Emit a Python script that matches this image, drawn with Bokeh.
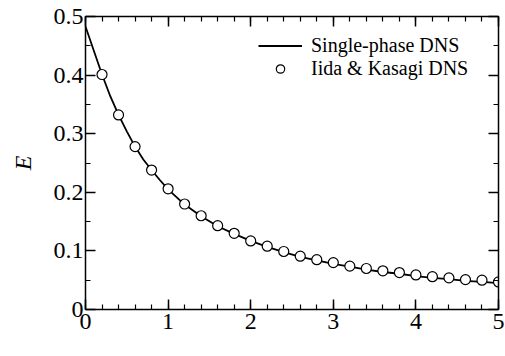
from bokeh.plotting import figure
from bokeh.models import LinearAxis, FixedTicker, Range1d, Legend, LegendItem, Label
from bokeh.embed import file_html
from bokeh.resources import INLINE

# Single-phase DNS (solid line)
t_line = [0.0, 0.1, 0.2, 0.3, 0.4, 0.5, 0.6, 0.7, 0.8, 0.9, 1.0, 1.2, 1.4, 1.6, 1.8,
          2.0, 2.2, 2.4, 2.6, 2.8, 3.0, 3.2, 3.4, 3.6, 3.8, 4.0, 4.2, 4.4, 4.6, 4.8, 5.0]
E_line = [0.483, 0.442, 0.401, 0.364, 0.332, 0.304, 0.278, 0.256, 0.238, 0.221, 0.205,
          0.179, 0.159, 0.142, 0.129, 0.117, 0.107, 0.098, 0.090, 0.084, 0.078, 0.073,
          0.068, 0.064, 0.061, 0.057, 0.054, 0.052, 0.049, 0.047, 0.045]

# Iida & Kasagi DNS (open circles)
t_dns = [0.2, 0.4, 0.6, 0.8, 1.0, 1.2, 1.4, 1.6, 1.8, 2.0, 2.2, 2.4, 2.6, 2.8, 3.0,
         3.2, 3.4, 3.6, 3.8, 4.0, 4.2, 4.4, 4.6, 4.8, 5.0]
E_dns = [0.401, 0.332, 0.278, 0.238, 0.206, 0.180, 0.160, 0.143, 0.130, 0.117, 0.108,
         0.099, 0.091, 0.085, 0.080, 0.074, 0.070, 0.066, 0.063, 0.059, 0.056, 0.054,
         0.051, 0.050, 0.047]

x_ticks = [0, 1, 2, 3, 4, 5]
x_tick_labels = ["0", "1", "2", "3", "4", "5"]
x_minor = [i * 0.2 for i in range(26)]
y_ticks = [0, 0.1, 0.2, 0.3, 0.4, 0.5]
y_tick_labels = ["0", "0.1", "0.2", "0.3", "0.4", "0.5"]
y_minor = [i * 0.05 for i in range(11)]

FONT = "Liberation Serif"

p = figure(width=505, height=356, x_range=Range1d(0, 5), y_range=Range1d(0, 0.5),
           output_backend="svg", toolbar_location=None,
           x_axis_location=None, y_axis_location=None,
           min_border_left=85, min_border_right=7, min_border_top=16, min_border_bottom=47)
p.xgrid.grid_line_color = None
p.ygrid.grid_line_color = None
p.outline_line_color = None
p.background_fill_color = "white"
p.border_fill_color = "white"


def make_axis(ticks, minor, labels, show_labels, standoff):
    ax = LinearAxis(ticker=FixedTicker(ticks=ticks, minor_ticks=minor))
    ax.axis_line_color = "black"
    ax.axis_line_width = 1.5
    ax.major_tick_in = 10
    ax.major_tick_out = 0
    ax.minor_tick_in = 5
    ax.minor_tick_out = 0
    ax.major_tick_line_width = 1.5
    ax.minor_tick_line_width = 1.2
    ax.major_tick_line_color = "black"
    ax.minor_tick_line_color = "black"
    ax.major_label_text_font = FONT
    if show_labels:
        ax.major_label_text_color = "black"
        ax.major_label_text_font_size = "24px"
        ax.major_label_overrides = dict(zip(ticks, labels))
        ax.major_label_standoff = standoff
    else:
        ax.major_label_text_color = None
        ax.major_label_text_font_size = "0px"
        ax.major_label_standoff = 0
    return ax


bottom = make_axis(x_ticks, x_minor, x_tick_labels, True, 4)
left = make_axis(y_ticks, y_minor, y_tick_labels, True, 2)
left.axis_label = "E"
left.axis_label_text_font = FONT
left.axis_label_text_font_style = "italic"
left.axis_label_text_font_size = "24px"
left.axis_label_text_color = "black"
left.axis_label_standoff = 15
top = make_axis(x_ticks, x_minor, x_tick_labels, False, 0)
right = make_axis(y_ticks, y_minor, y_tick_labels, False, 0)
p.add_layout(bottom, "below")
p.add_layout(left, "left")
p.add_layout(top, "above")
p.add_layout(right, "right")

r_line = p.line(t_line, E_line, line_color="black", line_width=1.8)
r_dns = p.scatter(t_dns, E_dns, marker="circle", size=10, fill_color="white",
                  line_color="black", line_width=1.2)

t_label = Label(x=2.5, y=-0.076, text="t", text_font=FONT, text_font_style="italic",
                text_font_size="24px", text_align="center", text_baseline="bottom",
                text_color="black")
p.add_layout(t_label)

legend = Legend(items=[LegendItem(label="Single-phase DNS", renderers=[r_line]),
                       LegendItem(label="Iida & Kasagi DNS", renderers=[r_dns])],
                location=(173, 229))
legend.label_text_font = FONT
legend.label_text_font_size = "20px"
legend.label_text_color = "black"
legend.glyph_width = 44
legend.glyph_height = 21
legend.label_height = 21
legend.label_standoff = 9
legend.spacing = -1
legend.padding = 0
legend.margin = 0
legend.border_line_color = None
legend.background_fill_alpha = 0
p.add_layout(legend)

open("out.html", "w").write(file_html(p, INLINE))
